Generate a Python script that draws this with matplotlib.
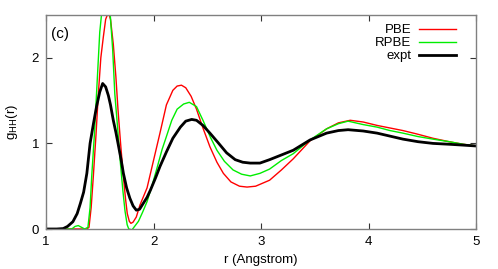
import matplotlib
matplotlib.use("Agg")
import matplotlib.pyplot as plt

plt.rcParams['font.family'] = ['Liberation Sans', 'DejaVu Sans']

# expt
x_expt = [1.0, 1.10, 1.16, 1.20, 1.25, 1.29, 1.32, 1.35, 1.38, 1.41, 1.44, 1.47, 1.50, 1.527,
          1.555, 1.58, 1.60, 1.626, 1.65, 1.67, 1.70, 1.72, 1.75, 1.78, 1.81, 1.84, 1.87, 1.94,
          1.97, 2.02, 2.06, 2.12, 2.18, 2.25, 2.30, 2.355, 2.40, 2.46, 2.525, 2.60, 2.68, 2.76,
          2.83, 2.90, 2.99, 3.08, 3.20, 3.30, 3.456, 3.61, 3.72, 3.81, 3.95, 4.08, 4.20, 4.32,
          4.46, 4.60, 4.75, 4.88, 5.0]
y_expt = [0, 0, 0.005, 0.03, 0.085, 0.18, 0.30, 0.43, 0.65, 1.0, 1.22, 1.43, 1.60, 1.70,
          1.66, 1.56, 1.45, 1.27, 1.13, 1.0, 0.80, 0.65, 0.48, 0.36, 0.27, 0.22, 0.23, 0.37,
          0.45, 0.60, 0.73, 0.90, 1.06, 1.19, 1.26, 1.28, 1.27, 1.21, 1.12, 1.01, 0.89, 0.81,
          0.78, 0.77, 0.77, 0.81, 0.87, 0.92, 1.04, 1.12, 1.15, 1.16, 1.145, 1.12, 1.085, 1.05,
          1.02, 1.0, 0.99, 0.98, 0.97]

# PBE
x_pbe = [1.0, 1.38, 1.40, 1.42, 1.44, 1.465, 1.487, 1.51, 1.533, 1.555, 1.58, 1.60, 1.626,
         1.65, 1.67, 1.695, 1.72, 1.74, 1.756, 1.775, 1.79, 1.81, 1.84, 1.874, 1.94, 2.00,
         2.06, 2.12, 2.18, 2.22, 2.26, 2.30, 2.35, 2.40, 2.46, 2.525, 2.59, 2.65, 2.72, 2.80,
         2.87, 2.95, 3.08, 3.19, 3.30, 3.456, 3.61, 3.72, 3.83, 3.95, 4.08, 4.20, 4.32, 4.45,
         4.60, 4.75, 4.88, 5.0]
y_pbe = [0, 0, 0.02, 0.25, 0.61, 1.1, 1.58, 2.0, 2.24, 2.45, 2.53, 2.45, 2.16,
         1.78, 1.39, 0.98, 0.61, 0.35, 0.18, 0.09, 0.066, 0.08, 0.14, 0.28, 0.48, 0.80,
         1.12, 1.45, 1.62, 1.67, 1.68, 1.65, 1.55, 1.40, 1.18, 0.96, 0.78, 0.65, 0.55, 0.50,
         0.49, 0.50, 0.57, 0.69, 0.82, 1.03, 1.17, 1.24, 1.27, 1.25, 1.21, 1.18, 1.15, 1.11,
         1.06, 1.02, 0.99, 0.97]

# RPBE
x_rpbe = [1.0, 1.24, 1.27, 1.30, 1.33, 1.36, 1.39, 1.41, 1.425, 1.45, 1.47, 1.50, 1.52,
          1.555, 1.595, 1.62, 1.64, 1.665, 1.69, 1.715, 1.735, 1.755, 1.77, 1.80, 1.83, 1.86,
          1.90, 1.94, 1.98, 2.03, 2.08, 2.12, 2.17, 2.22, 2.28, 2.333, 2.40, 2.46, 2.53, 2.59,
          2.66, 2.74, 2.82, 2.90, 2.99, 3.08, 3.19, 3.30, 3.456, 3.61, 3.72, 3.81, 3.95, 4.08,
          4.20, 4.32, 4.46, 4.60, 4.75, 4.88, 5.0]
y_rpbe = [0, 0, 0.03, 0.04, 0.02, 0, 0.02, 0.25, 0.61, 1.1, 1.58, 2.3, 2.55,
          2.70, 2.55, 2.1, 1.58, 1.2, 0.80, 0.45, 0.21, 0.05, 0.0, -0.01, 0.04, 0.09,
          0.20, 0.32, 0.48, 0.70, 0.93, 1.08, 1.27, 1.40, 1.46, 1.48, 1.43, 1.27, 1.07, 0.92,
          0.79, 0.69, 0.64, 0.62, 0.65, 0.70, 0.80, 0.88, 1.04, 1.17, 1.23, 1.26, 1.22, 1.19,
          1.15, 1.12, 1.08, 1.05, 1.02, 0.99, 0.97]

xticks = [1, 2, 3, 4, 5]
yticks = [0, 1, 2]

fig = plt.figure(figsize=(4.98, 2.69), dpi=100)
ax = fig.add_axes([46/498, 1 - 229/269, 430/498, 214/269])

ax.plot(x_pbe, y_pbe, color='#ff0000', lw=1.0, label='PBE')
ax.plot(x_rpbe, y_rpbe, color='#00ee00', lw=1.0, label='RPBE')
ax.plot(x_expt, y_expt, color='black', lw=2.0, label='expt')

ax.set_xlim(1, 5)
ax.set_ylim(0, 2.5)
ax.set_xticks(xticks)
ax.set_yticks(yticks)
ax.tick_params(direction='in', length=4, width=0.8, top=True, right=True,
               labelsize=9.5, color='#333333', pad=5)
for s in ax.spines.values():
    s.set_color('#808080')
    s.set_linewidth(1.0)

ax.set_xlabel('r (Angstrom)', fontsize=9.5, labelpad=4)
ax.set_ylabel(r'g$_{\mathrm{HH}}$(r)', fontsize=9.5, labelpad=8)

ax.text(1.13, 2.28, '(c)', fontsize=11, ha='center', va='center')

leg = ax.legend(loc='upper right', frameon=False, markerfirst=False, fontsize=9.5,
                handlelength=2.8, handletextpad=0.6, labelspacing=0.05,
                borderaxespad=0.3, bbox_to_anchor=(0.975, 1.0))
for t in leg.get_texts():
    t.set_ha('right')

fig.savefig('out.png', dpi=100)
